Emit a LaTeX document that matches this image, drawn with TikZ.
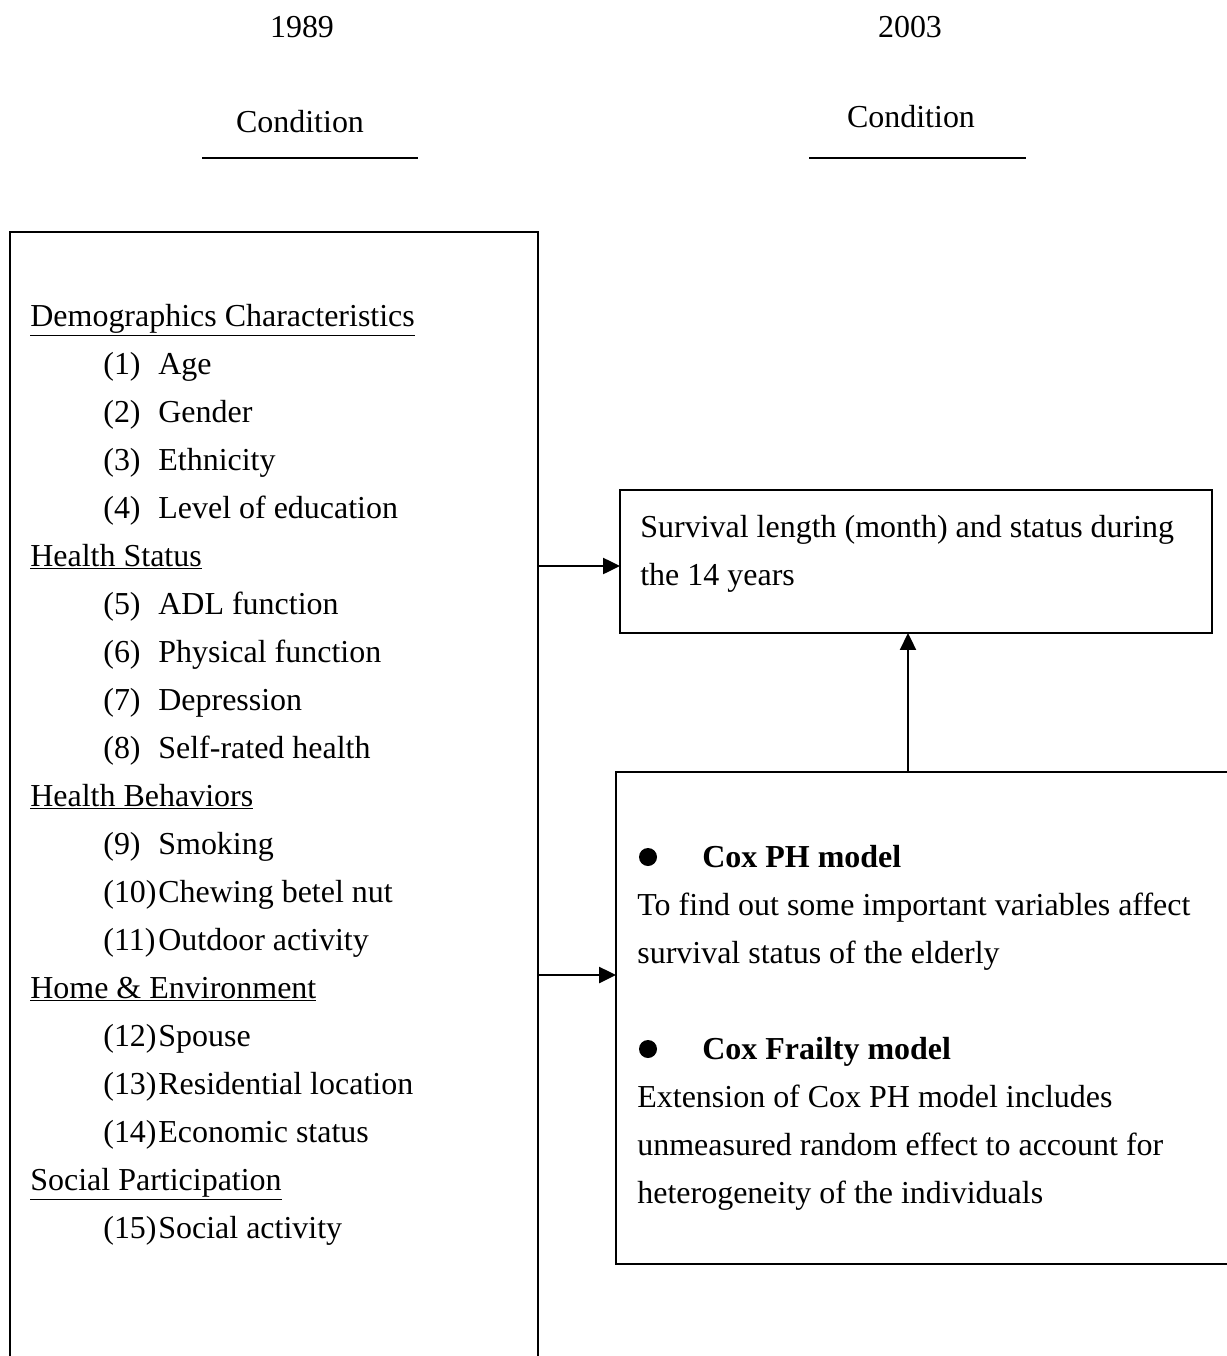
\documentclass[tikz,border=0pt]{standalone}
\usepackage{fontspec}
\setmainfont{Liberation Serif}
\usepackage{tikz}
\usetikzlibrary{arrows.meta,positioning}

\tikzset{
    txt/.style={anchor=base west, inner sep=0pt},
    box/.style={draw, line width=1.3pt, inner sep=0pt, outer sep=0pt},
    >={Triangle[length=0.34cm,width=0.32cm]}
}

\begin{document}
\begin{tikzpicture}[x=0.02cm, y=-0.02cm, font=\fontsize{18.2}{27.3}\selectfont]
        \useasboundingbox (0,0) rectangle (1227,1356);
        \clip (0,0) rectangle (1227,1356);

        % headers
        \node[anchor=base] (y1) at (302,37) {1989};
        \node[anchor=base] (y2) at (910,37) {2003};
        \node[anchor=base] (c1) at (300,132) {Condition};
        \node[anchor=base] (c2) at (911,127) {Condition};
        \draw[line width=1.3pt] (202,158) -- (418,158);
        \draw[line width=1.3pt] (809,158) -- (1026,158);

        % left box
        \node[box, minimum width=10.56cm, minimum height=23.36cm] (L) at (274,816) {};
        \node[txt] (G1) at (30,326) {\underline{Demographics Characteristics}};
        \node[txt] (n1) at (103,374) {(1)};  \node[txt] (I1) at (158,374) {Age};
        \node[txt] (n2) at (103,422) {(2)};  \node[txt] (I2) at (158,422) {Gender};
        \node[txt] (n3) at (103,470) {(3)};  \node[txt] (I3) at (158,470) {Ethnicity};
        \node[txt] (n4) at (103,518) {(4)};  \node[txt] (I4) at (158,518) {Level of education};
        \node[txt] (G2) at (30,566) {\underline{Health Status}};
        \node[txt] (n5) at (103,614) {(5)};  \node[txt] (I5) at (158,614) {ADL function};
        \node[txt] (n6) at (103,662) {(6)};  \node[txt] (I6) at (158,662) {Physical function};
        \node[txt] (n7) at (103,710) {(7)};  \node[txt] (I7) at (158,710) {Depression};
        \node[txt] (n8) at (103,758) {(8)};  \node[txt] (I8) at (158,758) {Self-rated health};
        \node[txt] (G3) at (30,806) {\underline{Health Behaviors}};
        \node[txt] (n9) at (103,854) {(9)};  \node[txt] (I9) at (158,854) {Smoking};
        \node[txt] (n10) at (103,902) {(10)}; \node[txt] (I10) at (158,902) {Chewing betel nut};
        \node[txt] (n11) at (103,950) {(11)}; \node[txt] (I11) at (158,950) {Outdoor activity};
        \node[txt] (G4) at (30,998) {\underline{Home \& Environment}};
        \node[txt] (n12) at (103,1046) {(12)}; \node[txt] (I12) at (158,1046) {Spouse};
        \node[txt] (n13) at (103,1094) {(13)}; \node[txt] (I13) at (158,1094) {Residential location};
        \node[txt] (n14) at (103,1142) {(14)}; \node[txt] (I14) at (158,1142) {Economic status};
        \node[txt] (G5) at (30,1190) {\underline{Social Participation}};
        \node[txt] (n15) at (103,1238) {(15)}; \node[txt] (I15) at (158,1238) {Social activity};

        % outcome box
        \node[box, minimum width=11.84cm, minimum height=2.86cm] (T) at (916,561.5) {};
        \node[txt] (t1) at (640,537) {Survival length (month) and status during};
        \node[txt] (t2) at (640,585) {the 14 years};

        % model box
        \node[box, minimum width=12.88cm, minimum height=9.84cm] (B) at (938,1018) {};
        \node[circle, fill, inner sep=0pt, minimum size=0.36cm] (b1) at (648,857) {};
        \node[txt] (m1) at (702,867) {\textbf{Cox PH model}};
        \node[txt] (m2) at (637,915) {To find out some important variables affect};
        \node[txt] (m3) at (637,963) {survival status of the elderly};
        \node[circle, fill, inner sep=0pt, minimum size=0.36cm] (b2) at (648,1049) {};
        \node[txt] (m4) at (702,1059) {\textbf{Cox Frailty model}};
        \node[txt] (m5) at (637,1107) {Extension of Cox PH model includes};
        \node[txt] (m6) at (637,1155) {unmeasured random effect to account for};
        \node[txt] (m7) at (637,1203) {heterogeneity of the individuals};

        % arrows
        \draw[->, line width=1.3pt] ([yshift=-0.09cm]L.east |- T.west) -- ([yshift=-0.09cm]T.west);
        \draw[->, line width=1.3pt] ([yshift=0.86cm]L.east |- B.west) -- ([yshift=0.86cm]B.west);
        \draw[->, line width=1.3pt] ([xshift=-0.16cm]T.south |- B.north) -- ([xshift=-0.16cm]T.south);
    \end{tikzpicture}
\end{document}
